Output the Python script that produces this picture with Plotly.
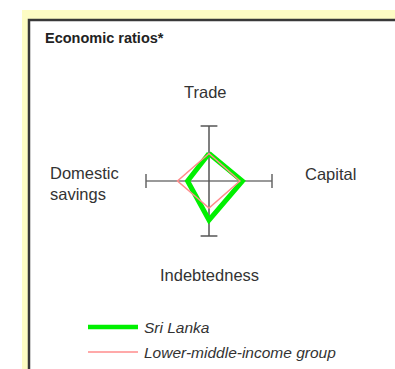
import plotly.graph_objects as go

# axis order: top, right, bottom, left
axis_names = ["Trade", "Capital", "Indebtedness", "Domestic<br>savings"]
dir_x = [0, 1, 0, -1]
dir_y = [1, 0, -1, 0]

sri_lanka = [0.50, 0.53, 0.71, 0.34]
lmi_group = [0.50, 0.49, 0.49, 0.50]
axis_len = 1.0

series_names = ["Sri Lanka", "Lower-middle-income group"]
series_colors = ["#00f000", "#ff8c8c"]

W, H = 395, 369
CX, CY = 209, 181          # pixel centre of the diamond
UX, UY = 63, 55            # pixels per unit

FONT = "Liberation Sans, Arial, sans-serif"
TXT = "#333333"


def closed(vals, d):
    return [v * k for v, k in zip(vals, d)] + [vals[0] * d[0]]


fig = go.Figure()

# cross-hair axes with end caps
fig.add_trace(go.Scatter(
    x=[-axis_len, axis_len], y=[0, 0], mode="lines+markers",
    line=dict(color="#777777", width=1.5),
    marker=dict(symbol="line-ns", size=10, line=dict(color="#666666", width=1.5)),
    showlegend=False, hoverinfo="skip",
))
fig.add_trace(go.Scatter(
    x=[0, 0], y=[-axis_len, axis_len], mode="lines+markers",
    line=dict(color="#555555", width=1.5),
    marker=dict(symbol="line-ew", size=12, line=dict(color="#555555", width=1.5)),
    showlegend=False, hoverinfo="skip",
))

fig.add_trace(go.Scatter(
    x=closed(sri_lanka, dir_x), y=closed(sri_lanka, dir_y), mode="lines",
    line=dict(color=series_colors[0], width=5), name=series_names[0],
    showlegend=False,
))
fig.add_trace(go.Scatter(
    x=closed(lmi_group, dir_x), y=closed(lmi_group, dir_y), mode="lines",
    line=dict(color=series_colors[1], width=1.5), name=series_names[1],
    showlegend=False,
))

# axis labels
label_pos = [(-0.05, 1.62, "center"), (1.49, 0.13, "left"),
             (0.0, -1.7, "center"), (-2.56, -0.04, "left")]
for name, (lx, ly, anchor) in zip(axis_names, label_pos):
    fig.add_annotation(x=lx, y=ly, text=name, showarrow=False, xanchor=anchor,
                       yanchor="middle", align="left",
                       font=dict(family=FONT, size=16.5, color=TXT))

shapes = [
    dict(type="rect", xref="paper", yref="paper", x0=22 / W, x1=1.05,
         y0=-0.05, y1=1 - 10 / H, fillcolor="#fdfcc4", line_width=0, layer="below"),
    dict(type="rect", xref="paper", yref="paper", x0=29 / W, x1=1.1,
         y0=-0.1, y1=1 - 20 / H, fillcolor="white",
         line=dict(color="#383838", width=2.5), layer="below"),
]

# custom legend
leg_y = [327, 352]
leg_w = [4.5, 1.5]
for name, color, py, lw in zip(series_names, series_colors, leg_y, leg_w):
    shapes.append(dict(type="line", xref="paper", yref="paper",
                       x0=88 / W, x1=138 / W, y0=1 - py / H, y1=1 - py / H,
                       line=dict(color=color, width=lw)))
    fig.add_annotation(xref="paper", yref="paper", x=142 / W, y=1 - py / H,
                       text="<i>" + name + "</i>", showarrow=False,
                       xanchor="left", yanchor="middle",
                       font=dict(family=FONT, size=15.5, color=TXT))

fig.add_annotation(xref="paper", yref="paper", x=43 / W, y=1 - 38.5 / H,
                   text="<b>Economic ratios*</b>", showarrow=False,
                   xanchor="left", yanchor="middle",
                   font=dict(family=FONT, size=14.5, color="#222222"))

fig.update_layout(
    width=W, height=H,
    margin=dict(l=0, r=0, t=0, b=0),
    paper_bgcolor="white", plot_bgcolor="rgba(0,0,0,0)",
    shapes=shapes, showlegend=False,
)
fig.update_xaxes(range=[-CX / UX, (W - CX) / UX], visible=False, fixedrange=True)
fig.update_yaxes(range=[(CY - H) / UY, CY / UY], visible=False, fixedrange=True)

fig.write_html("out.html", config={"displayModeBar": False},
               post_script="document.body.style.margin='0';")
